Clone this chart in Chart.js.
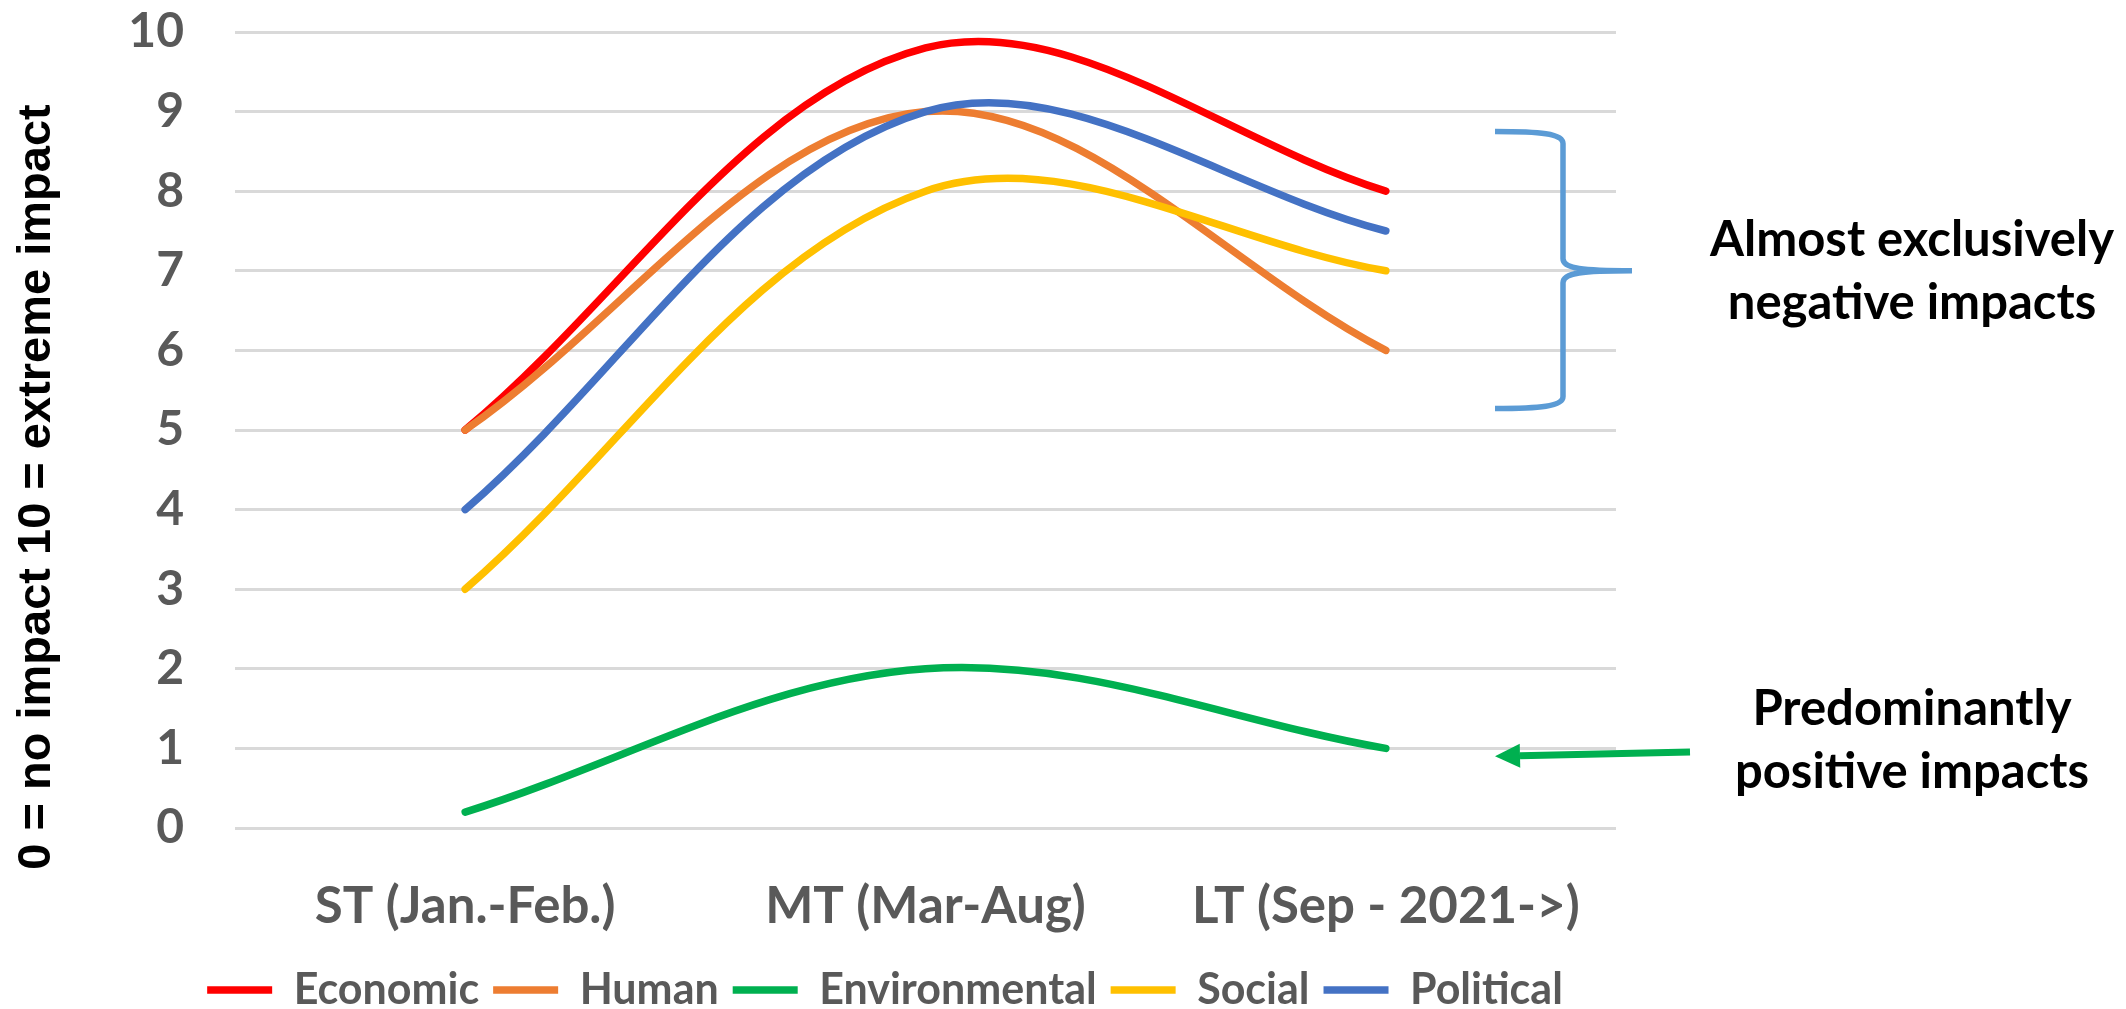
<!DOCTYPE html>
<html>
<head>
<meta charset="utf-8">
<title>Impact over time</title>
<script src="https://cdn.jsdelivr.net/npm/chart.js@4.4.1/dist/chart.umd.min.js"></script>
<style>
  html, body { margin: 0; padding: 0; background: #fff; }
  #wrap { width: 2126px; height: 1009px; position: relative; }
</style>
</head>
<body>
<div id="wrap"><canvas id="impactChart"></canvas></div>
<script>
// data
const categories = ['ST (Jan.-Feb.)', 'MT (Mar-Aug)', 'LT (Sep - 2021->)'];
const seriesNames = ['Economic', 'Human', 'Environmental', 'Social', 'Political'];
const economic = [5, 9.8, 8];
const human = [5, 9, 6];
const environmental = [0.2, 2, 1];
const social = [3, 8, 7];
const political = [4, 9, 7.5];
const yTickMin = 0;
const yTickMax = 10;
const yTickStep = 1;

const seriesColors = ['#FF0000', '#ED7D31', '#00B050', '#FFC000', '#4472C4'];
const labelGrey = '#595959';

document.addEventListener('DOMContentLoaded', function() {
    const ctx = document.getElementById('impactChart').getContext('2d');
    const allSeries = [economic, human, environmental, social, political];

    // Excel draws the later series on top, Chart.js the other way round
    const datasets = allSeries.map((values, i) => ({
        label: seriesNames[i],
        data: values,
        borderColor: seriesColors[i],
        backgroundColor: seriesColors[i],
        borderWidth: 7.5,
        borderCapStyle: 'round',
        borderJoinStyle: 'round',
        pointRadius: 0,
        pointHoverRadius: 0,
        tension: 0.35,
        fill: false,
        order: allSeries.length - 1 - i
    }));

    // put the legend where it sits in the picture
    const legendSpot = {
        id: 'legendSpot',
        afterLayout(chart) {
            const lg = chart.legend;
            if (!lg) return;
            const o = lg.options.labels;
            const dx = 885 - (lg.left + lg.right) / 2;
            const dy = 990 - (lg.top + o.padding + o.font.size / 2);
            lg.left += dx; lg.right += dx;
            lg.top += dy; lg.bottom += dy;
        }
    };

    // axis title, brace, arrow and side notes
    const notes = {
        id: 'notes',
        afterDraw(chart) {
            const c = chart.ctx;
            const area = chart.chartArea;
            const y = chart.scales.y;
            const r = area.right;

            c.save();

            // rotated y title
            c.save();
            c.translate(50, 487);
            c.rotate(-Math.PI / 2);
            c.font = 'bold 47px "Liberation Sans", Arial, sans-serif';
            c.fillStyle = '#000';
            c.textAlign = 'center';
            c.textBaseline = 'alphabetic';
            c.fillText('0 = no impact 10 = extreme impact', 0, 0);
            c.restore();

            // brace
            const bTop = y.getPixelForValue(8.75);
            const bMid = y.getPixelForValue(7);
            const bBot = y.getPixelForValue(5.27);
            const armX = r - 121, stemX = r - 53, tipX = r + 16;
            c.strokeStyle = '#5B9BD5';
            c.lineWidth = 5.5;
            c.lineJoin = 'round';
            c.beginPath();
            c.moveTo(armX, bTop);
            c.bezierCurveTo(armX + 45, bTop, stemX, bTop + 2, stemX, bTop + 12);
            c.lineTo(stemX, bMid - 12);
            c.bezierCurveTo(stemX, bMid - 2, stemX + 20, bMid, tipX, bMid);
            c.moveTo(tipX, bMid);
            c.bezierCurveTo(stemX + 20, bMid, stemX, bMid + 2, stemX, bMid + 12);
            c.lineTo(stemX, bBot - 12);
            c.bezierCurveTo(stemX, bBot - 2, armX + 45, bBot, armX, bBot);
            c.stroke();

            // green arrow
            const aRight = { x: r + 74, y: y.getPixelForValue(0.955) };
            const aTip = { x: r - 121, y: y.getPixelForValue(0.9) };
            const ang = Math.atan2(aTip.y - aRight.y, aTip.x - aRight.x);
            const headLen = 25, headHalf = 12;
            const baseX = aTip.x - Math.cos(ang) * headLen;
            const baseY = aTip.y - Math.sin(ang) * headLen;
            c.strokeStyle = '#00B050';
            c.fillStyle = '#00B050';
            c.lineWidth = 7;
            c.lineCap = 'butt';
            c.beginPath();
            c.moveTo(aRight.x, aRight.y);
            c.lineTo(baseX, baseY);
            c.stroke();
            c.beginPath();
            c.moveTo(aTip.x, aTip.y);
            c.lineTo(baseX - Math.sin(ang) * headHalf, baseY + Math.cos(ang) * headHalf);
            c.lineTo(baseX + Math.sin(ang) * headHalf, baseY - Math.cos(ang) * headHalf);
            c.closePath();
            c.fill();

            // side notes
            c.fillStyle = '#000';
            c.font = 'bold 49px Lato, "Open Sans", sans-serif';
            c.textAlign = 'center';
            c.textBaseline = 'alphabetic';
            const noteX = r + 296;
            c.fillText('Almost exclusively', noteX, bMid - 15);
            c.fillText('negative impacts', noteX, bMid + 48);
            c.fillText('Predominantly', noteX, aRight.y - 27);
            c.fillText('positive impacts', noteX, aRight.y + 36);

            c.restore();
        }
    };

    new Chart(ctx, {
        type: 'line',
        data: {
            labels: categories,
            datasets: datasets
        },
        options: {
            responsive: true,
            maintainAspectRatio: false,
            animation: false,
            events: [],
            layout: {
                padding: { left: 0, right: 510, top: 32, bottom: 0 }
            },
            elements: {
                line: { capBezierPoints: false }
            },
            scales: {
                x: {
                    offset: true,
                    grid: { display: false },
                    border: { display: false },
                    ticks: {
                        padding: 40,
                        color: labelGrey,
                        maxRotation: 0,
                        autoSkip: false,
                        font: { family: 'Lato', size: 51, weight: 'bold' }
                    },
                    afterFit(scale) {
                        const lg = scale.chart.legend;
                        scale.height = scale.chart.height - 828 - (lg ? lg.height : 0);
                    }
                },
                y: {
                    min: yTickMin,
                    max: yTickMax,
                    grid: { color: '#D9D9D9', lineWidth: 3, drawTicks: false },
                    border: { display: false },
                    ticks: {
                        stepSize: yTickStep,
                        padding: 51,
                        color: labelGrey,
                        font: { family: 'Lato', size: 48, weight: 'bold' }
                    },
                    afterFit(scale) {
                        // the tick padding would otherwise push the plot down
                        scale.width = 235;
                        scale.paddingTop = 0;
                        scale.paddingBottom = 0;
                    }
                }
            },
            plugins: {
                tooltip: { enabled: false },
                title: { display: false },
                legend: {
                    position: 'bottom',
                    labels: {
                        usePointStyle: true,
                        pointStyle: 'line',
                        pointStyleWidth: 65,
                        padding: 14,
                        color: labelGrey,
                        font: { family: 'Lato', size: 43, weight: 'bold' },
                        sort: (a, b) => a.datasetIndex - b.datasetIndex
                    }
                }
            }
        },
        plugins: [legendSpot, notes]
    });
});
</script>
</body>
</html>
